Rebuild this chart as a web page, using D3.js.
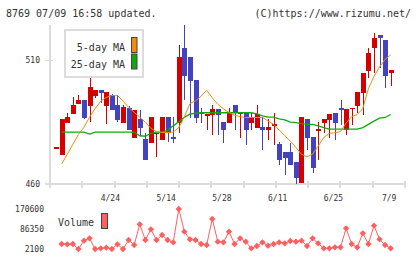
<!DOCTYPE html>
<html>
<head>
<meta charset="utf-8">
<script src="https://cdn.jsdelivr.net/npm/d3@7"></script>
<style>
  html, body { margin: 0; padding: 0; background: #fff; }
  svg { display: block; }
  text { font-family: "DejaVu Sans Mono", monospace; fill: #333; }
</style>
</head>
<body>
<div id="content"></div>
<script>
// Datos (indice 0 = primer dia visible)
const openP  = [474.7,471.7,484.7,488.1,492.5,493.9,491.6,495.6,497.9,491.6,495.9,491.9,484.7,490.9,478.7,486.2,478.0,476.4,480.4,477.7,486.9,479.0,484.7,515.1,511.3,501.9,488.9,487.8,487.8,490.2,485.1,484.7,491.9,488.6,488.9,484.7,482.7,483.1,481.8,484.0,476.1,472.8,472.8,468.9,460.5,486.2,478.8,482.0,484.7,485.8,488.9,490.9,481.8,490.7,491.5,496.8,505.6,515.0,520.1,518.1,504.9];
const highP  = [474.9,486.2,488.8,495.0,495.9,493.9,503.0,497.9,497.9,497.2,496.5,495.9,491.9,491.5,490.1,490.1,480.5,486.9,480.7,486.9,486.9,487.2,516.0,524.1,511.3,501.9,490.9,488.1,491.9,490.2,485.1,490.9,491.9,488.9,488.9,488.9,491.9,486.9,486.2,488.9,477.1,472.8,476.7,468.9,486.9,486.2,478.8,484.9,486.2,488.1,488.9,493.9,490.2,490.9,497.0,505.0,515.1,521.2,520.1,518.1,506.0];
const lowP   = [474.6,471.7,484.7,488.1,492.5,486.2,484.9,494.9,492.8,484.2,490.1,485.1,484.7,481.8,478.7,479.8,469.7,476.4,471.0,477.7,477.1,476.7,480.7,493.9,486.5,484.7,484.7,481.8,479.8,479.8,476.7,484.7,481.8,478.7,475.7,481.8,482.7,473.7,477.7,475.7,467.7,463.6,467.7,459.9,460.5,473.7,464.6,469.7,480.7,478.7,477.7,483.8,479.8,483.8,488.9,487.8,503.0,504.9,507.0,498.8,499.7];
const closeP = [474.8,486.2,486.9,491.9,493.9,486.7,499.3,497.9,496.8,497.2,490.1,485.8,491.2,481.8,490.1,482.7,469.7,486.9,480.7,486.9,480.7,478.0,511.3,503.5,501.5,486.7,488.1,488.1,490.2,487.8,481.8,488.9,488.8,488.9,481.8,486.9,488.1,481.8,483.1,484.2,469.7,470.6,467.7,462.5,486.9,478.7,466.6,482.2,486.2,488.1,484.7,489.8,490.2,490.9,497.0,505.0,513.1,519.1,519.1,503.7,506.0];

const ma5  = [null,468.1,472.0,476.0,480.0,483.0,487.0,490.5,493.5,495.0,495.8,495.8,493.5,491.0,489.0,487.0,485.0,482.5,481.2,480.8,480.8,481.0,482.8,487.2,492.5,493.6,495.5,497.9,494.9,492.2,490.4,488.9,487.8,487.2,486.9,486.9,486.9,486.9,485.5,484.1,481.8,479.6,477.3,474.8,472.0,471.0,472.1,475.3,478.8,480.5,480.7,481.2,484.6,487.2,488.1,490.5,498.5,503.5,507.3,510.4,512.2];
const ma25 = [null,481.0,481.0,481.0,481.0,481.0,480.2,481.0,481.0,481.0,481.0,481.0,481.0,481.0,481.0,479.5,479.3,480.5,481.0,481.0,481.7,483.5,485.2,487.0,488.2,488.6,488.8,488.8,488.8,488.8,488.8,488.8,488.8,488.8,488.8,488.8,488.3,487.5,487.0,487.0,486.3,485.9,485.0,484.8,484.4,484.1,484.1,483.5,482.8,482.2,482.2,482.2,482.2,482.2,482.2,482.8,484.1,485.4,486.6,486.9,488.1];

const volume = [null,23200,21800,23200,2100,37200,47000,2100,4900,7700,2100,21800,2100,40000,19000,106000,40000,85000,40000,61100,40000,30200,170600,75100,42800,40000,23200,19000,128500,33000,30200,75100,23200,47000,33000,4900,14700,30200,16100,23200,30200,26000,35800,33000,37200,14700,47000,26000,4900,4900,9100,9100,89200,23200,9100,68100,23200,100400,42800,19000,4900];

const tickLabels = ['4/24','5/14','5/28','6/11','6/25','7/9'];
const tickIndex  = [10, 20, 30, 40, 50, 60];
const priceTicks = [460, 510];
const volTicks   = [2100, 86350, 170600];

document.addEventListener('DOMContentLoaded', () => {
    drawSVG();
});

const drawSVG = () => {
    const width = 420;
    const height = 259;
    const upColor = '#d40000';
    const downColor = '#4343bf';
    const gridColor = '#dcdcdc';

    const svg = d3.select('#content')
                  .append('svg')
                  .attr('width', width)
                  .attr('height', height)
                  .style('background-color', '#ffffff');

    const days = d3.range(openP.length);

    // Escalas
    const x = d3.scalePoint().domain(days).range([56.1, 390.7]);
    const frame = d3.scaleLinear().domain([0, 11]).range([50, 405]);
    const y = d3.scaleLinear().domain([460, 510]).range([184, 60.3]);
    const yVol = d3.scaleLinear().domain([2100, 170600]).range([249, 209]);

    // Cabecera
    svg.append('text').attr('x', 6).attr('y', 17)
       .style('font-size', '10px').text('8769 07/09 16:58 updated.');
    svg.append('text').attr('x', 411).attr('y', 17)
       .attr('text-anchor', 'end')
       .style('font-size', '10px').text('(C)https://www.rizumu.net/');

    // Ejes
    const axes = svg.append('g').attr('shape-rendering', 'crispEdges');
    axes.append('line').attr('x1', 50).attr('x2', 50).attr('y1', 25).attr('y2', 188)
        .attr('stroke', gridColor).attr('stroke-width', 2);
    axes.append('line').attr('x1', 45).attr('x2', 406).attr('y1', 184).attr('y2', 184)
        .attr('stroke', gridColor).attr('stroke-width', 2);
    axes.selectAll('.xtick')
        .data(d3.range(12))
        .enter()
        .append('line')
        .attr('x1', d => frame(d)).attr('x2', d => frame(d))
        .attr('y1', 181).attr('y2', 188)
        .attr('stroke', gridColor).attr('stroke-width', 2);
    axes.selectAll('.ytick')
        .data(priceTicks)
        .enter()
        .append('line')
        .attr('x1', 45).attr('x2', 53)
        .attr('y1', d => y(d)).attr('y2', d => y(d))
        .attr('stroke', gridColor).attr('stroke-width', 1);

    svg.selectAll('.plabel')
       .data(priceTicks)
       .enter()
       .append('text')
       .attr('x', 40).attr('y', d => y(d) + 3)
       .attr('text-anchor', 'end')
       .style('font-size', '8px')
       .text(d => d);

    svg.selectAll('.dlabel')
       .data(tickLabels)
       .enter()
       .append('text')
       .attr('x', (d, i) => x(tickIndex[i]) - 1.5)
       .attr('y', 201)
       .attr('text-anchor', 'middle')
       .style('font-size', '8px')
       .text(d => d);

    // Velas
    const candles = svg.append('g').attr('shape-rendering', 'crispEdges');
    const candle = candles.selectAll('g')
                          .data(days)
                          .enter()
                          .append('g');

    candle.append('line')
          .attr('x1', d => Math.round(x(d)) + 0.5)
          .attr('x2', d => Math.round(x(d)) + 0.5)
          .attr('y1', d => y(highP[d]))
          .attr('y2', d => y(lowP[d]))
          .attr('stroke', d => closeP[d] >= openP[d] ? upColor : downColor)
          .attr('stroke-width', 1);

    candle.append('rect')
          .attr('x', d => Math.round(x(d)) - 2)
          .attr('width', 5)
          .attr('y', d => y(Math.max(openP[d], closeP[d])))
          .attr('height', d => Math.max(1.5, Math.abs(y(openP[d]) - y(closeP[d]))))
          .attr('fill', d => closeP[d] >= openP[d] ? upColor : downColor);

    // Medias moviles
    const maLine = arr => d3.line()
                            .defined(d => arr[d] !== null)
                            .x(d => x(d))
                            .y(d => y(arr[d]));

    svg.append('path')
       .attr('d', maLine(ma25)(days))
       .attr('fill', 'none')
       .attr('stroke', '#10a810')
       .attr('stroke-width', 1.3);

    svg.append('path')
       .attr('d', maLine(ma5)(days))
       .attr('fill', 'none')
       .attr('stroke', '#f28c0a')
       .attr('stroke-width', 1);

    // Leyenda
    const legend = svg.append('g');
    legend.append('rect')
          .attr('x', 65).attr('y', 30).attr('width', 78).attr('height', 47)
          .attr('fill', '#ffffff').attr('stroke', gridColor).attr('stroke-width', 2);
    const legendItems = [['5-day MA', '#f28c0a'], ['25-day MA', '#10a810']];
    legend.selectAll('text')
          .data(legendItems)
          .enter()
          .append('text')
          .attr('x', 125).attr('y', (d, i) => 50.5 + i * 17)
          .attr('text-anchor', 'end')
          .style('font-size', '10px')
          .text(d => d[0]);
    legend.selectAll('.sw')
          .data(legendItems)
          .enter()
          .append('rect')
          .attr('x', 131.5).attr('y', (d, i) => 37.5 + i * 16.5)
          .attr('width', 5.5).attr('height', 15)
          .attr('fill', d => d[1])
          .attr('stroke', '#444').attr('stroke-width', 1);

    // Volumen
    svg.selectAll('.vlabel')
       .data(volTicks)
       .enter()
       .append('text')
       .attr('x', 44).attr('y', d => yVol(d) + 3)
       .attr('text-anchor', 'end')
       .style('font-size', '8px')
       .text(d => d);

    svg.append('text').attr('x', 58).attr('y', 226)
       .style('font-size', '10px').text('Volume');
    svg.append('rect')
       .attr('x', 101.5).attr('y', 213.5).attr('width', 6).attr('height', 15)
       .attr('fill', '#ff5f5f').attr('stroke', '#444').attr('stroke-width', 1);

    const volDays = days.filter(d => volume[d] !== null);
    svg.append('path')
       .attr('d', d3.line().x(d => x(d)).y(d => yVol(volume[d]))(volDays))
       .attr('fill', 'none')
       .attr('stroke', '#ff5f5f')
       .attr('stroke-width', 1);

    svg.selectAll('.vmark')
       .data(volDays)
       .enter()
       .append('path')
       .attr('d', d3.symbol().type(d3.symbolDiamond2).size(26))
       .attr('transform', d => `translate(${x(d)}, ${yVol(volume[d])})`)
       .attr('fill', '#ff5f5f');
}
</script>
</body>
</html>
